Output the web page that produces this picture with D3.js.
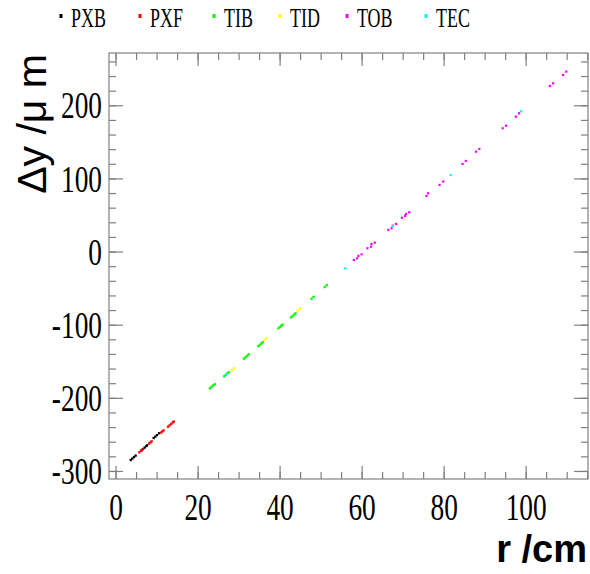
<!DOCTYPE html>
<html>
<head>
<meta charset="utf-8">
<script src="https://cdn.jsdelivr.net/npm/d3@7"></script>
<style>
  body { margin: 0; background: #fff; }
  svg { display: block; }
</style>
</head>
<body>
<div id="chart"></div>
<script>
// residual dy (um) against radius r (cm), one list per subdetector: [r, dy]
var pxb = [[3.7,-285.0],[4.1,-283.0],[4.5,-281.0],[4.9,-279.0],
           [6.3,-272.0],[6.7,-270.0],[7.1,-268.0],[7.5,-266.0],[7.7,-265.0],
           [9.3,-255.0],[9.7,-253.0],[10.1,-251.0],[10.6,-248.5]];
var pxf = [[5.8,-274.5],[6.2,-272.5],[6.6,-270.5],
           [8.2,-262.5],[8.5,-261.0],[8.8,-259.5],
           [11.1,-247.5],[11.4,-246.0],[11.7,-244.5],
           [12.8,-239.5],[13.2,-237.5],[13.6,-235.5],[14.0,-233.5],[14.2,-232.5]];
var tib = [[23.0,-187.0],[23.4,-185.0],[23.8,-183.0],[24.2,-181.5],
           [26.5,-170.5],[26.9,-168.5],[27.3,-166.5],[27.6,-165.0],
           [31.3,-146.5],[31.7,-144.5],[32.1,-142.5],[32.5,-140.5],
           [34.8,-129.5],[35.2,-127.5],[35.6,-125.5],[35.9,-124.0],
           [39.7,-105.0],[40.1,-103.0],[40.4,-101.5],[40.7,-100.0],
           [42.8,-90.0],[43.2,-88.0],[43.6,-86.0],[43.9,-84.5],
           [47.8,-64.5],[48.3,-62.0],
           [51.0,-48.5],[51.5,-46.0]];
var tid = [[28.4,-162.0],[28.9,-159.5],
           [36.3,-121.0],[36.8,-118.5],
           [44.4,-81.0],[45.0,-78.0]];
var tob = [[58.1,-11.5],[58.9,-9.3],[59.2,-6.0],[60.0,-3.8],
           [61.4,4.5],[62.3,6.7],[62.4,10.4],[63.2,12.2],
           [66.5,29.5],[67.3,31.9],[67.6,35.4],[68.4,37.7],
           [69.8,46.3],[70.6,48.7],[70.8,51.4],[71.6,53.7],
           [75.8,76.0],[76.2,79.7],[79.0,91.1],[79.9,95.8],
           [84.6,119.8],[85.4,123.9],[87.9,136.6],[88.7,140.3],
           [94.4,168.6],[95.2,172.1],[97.6,184.4],[98.4,189.1],
           [105.9,226.4],[106.7,230.1],[109.1,241.5],[109.9,246.0]];
var tec = [[27.0,-167.3],[56.0,-23.1],[67.6,34.7],[81.7,104.7],[98.9,191.8]];

var seriesNames = ["PXB", "PXF", "TIB", "TID", "TOB", "TEC"];
var seriesData = [pxb, pxf, tib, tid, tob, tec];
var seriesColors = ["#000000", "#ff0000", "#00ff00", "#ffff00", "#ff00ff", "#00ffff"];

var xMajor = [0, 20, 40, 60, 80, 100];
var yMajor = [-300, -200, -100, 0, 100, 200];

var width = 590, height = 574,
    margin = {top: 53, right: 2, bottom: 95, left: 109};

var svg = d3.select("#chart").append("svg")
    .attr("width", width)
    .attr("height", height);

svg.append("rect").attr("width", width).attr("height", height).attr("fill", "#fff");

var x = d3.scaleLinear().domain([-1.6, 115.2]).range([margin.left, width - margin.right]);
var y = d3.scaleLinear().domain([-311, 271.5]).range([height - margin.bottom, margin.top]);

var axisColor = "#808080";
var numFont = "'Liberation Serif', 'Times New Roman', serif";
var squeeze = 0.74;
var plain = function(d) { return String(d); };   // plain hyphen for negatives

function minorTicks(scale, step) {
    var d = scale.domain(), out = [];
    for (var v = Math.ceil(d[0] / step) * step; v <= d[1]; v += step) out.push(v);
    return out;
}

function styleAxis(g) {
    g.select(".domain").remove();
    g.selectAll("line").attr("stroke", axisColor).attr("stroke-width", 1.2);
}

// ticks on all four sides, pointing into the frame
var yBot = height - margin.bottom, xRight = width - margin.right;

svg.append("g").attr("transform", "translate(0," + yBot + ")")
    .call(d3.axisBottom(x).tickValues(minorTicks(x, 5)).tickSizeInner(-7).tickSizeOuter(0).tickFormat(""))
    .call(styleAxis);
svg.append("g").attr("transform", "translate(0," + margin.top + ")")
    .call(d3.axisTop(x).tickValues(minorTicks(x, 5)).tickSizeInner(-7).tickSizeOuter(0).tickFormat(""))
    .call(styleAxis);
svg.append("g").attr("transform", "translate(" + margin.left + ",0)")
    .call(d3.axisLeft(y).tickValues(minorTicks(y, 20)).tickSizeInner(-7).tickSizeOuter(0).tickFormat(""))
    .call(styleAxis);
svg.append("g").attr("transform", "translate(" + xRight + ",0)")
    .call(d3.axisRight(y).tickValues(minorTicks(y, 20)).tickSizeInner(-7).tickSizeOuter(0).tickFormat(""))
    .call(styleAxis);

var xAxis = svg.append("g").attr("transform", "translate(0," + yBot + ")")
    .call(d3.axisBottom(x).tickValues(xMajor).tickSizeInner(-13).tickSizeOuter(0).tickPadding(15).tickFormat(plain))
    .call(styleAxis);
svg.append("g").attr("transform", "translate(0," + margin.top + ")")
    .call(d3.axisTop(x).tickValues(xMajor).tickSizeInner(-13).tickSizeOuter(0).tickFormat(""))
    .call(styleAxis);
var yAxis = svg.append("g").attr("transform", "translate(" + margin.left + ",0)")
    .call(d3.axisLeft(y).tickValues(yMajor).tickSizeInner(-14).tickSizeOuter(0).tickPadding(7).tickFormat(plain))
    .call(styleAxis);
svg.append("g").attr("transform", "translate(" + xRight + ",0)")
    .call(d3.axisRight(y).tickValues(yMajor).tickSizeInner(-14).tickSizeOuter(0).tickFormat(""))
    .call(styleAxis);

xAxis.selectAll("text")
    .attr("fill", "#000")
    .style("font-family", numFont)
    .style("font-size", "37px")
    .attr("transform", "scale(" + squeeze + ",1)");
yAxis.selectAll("text")
    .attr("fill", "#000")
    .style("font-family", numFont)
    .style("font-size", "37px")
    .attr("x", -7 / squeeze)
    .attr("dy", "0.34em")
    .attr("transform", "scale(" + squeeze + ",1)");

// frame
svg.append("rect")
    .attr("x", margin.left).attr("y", margin.top)
    .attr("width", xRight - margin.left).attr("height", yBot - margin.top)
    .attr("fill", "none").attr("stroke", axisColor).attr("stroke-width", 1.2);

// points
seriesData.forEach(function(data, i) {
    var s = i === 4 ? 2.2 : 2.3;
    svg.append("g").selectAll("rect")
        .data(data)
        .enter().append("rect")
        .attr("x", function(d) { return x(d[0]) - s / 2; })
        .attr("y", function(d) { return y(d[1]) - s / 2; })
        .attr("width", s).attr("height", s)
        .attr("fill", seriesColors[i]);
});

// axis titles
svg.append("text")
    .attr("x", 587).attr("y", 562)
    .attr("text-anchor", "end")
    .style("font-family", "'Liberation Sans', Arial, sans-serif")
    .style("font-weight", "bold")
    .style("font-size", "38px")
    .text("r /cm");

svg.append("text")
    .attr("transform", "translate(46,54) rotate(-90)")
    .attr("text-anchor", "end")
    .style("font-family", "'Liberation Sans', Arial, sans-serif")
    .style("font-size", "41px")
    .text("Δy /μ m");

// legend
var legendX = [61, 140, 214, 280, 347, 426];
var legend = svg.append("g").attr("class", "legend")
    .selectAll("g")
    .data(seriesNames)
    .enter().append("g")
    .attr("transform", function(d, i) { return "translate(" + legendX[i] + ",0)"; });

legend.append("rect")
    .attr("x", -1.5).attr("y", 14).attr("width", 3).attr("height", 4)
    .attr("fill", function(d, i) { return seriesColors[i]; });

legend.append("text")
    .attr("transform", "translate(10,27) scale(0.64,1)")
    .style("font-family", numFont)
    .style("font-size", "28px")
    .text(function(d) { return d; });
</script>
</body>
</html>
